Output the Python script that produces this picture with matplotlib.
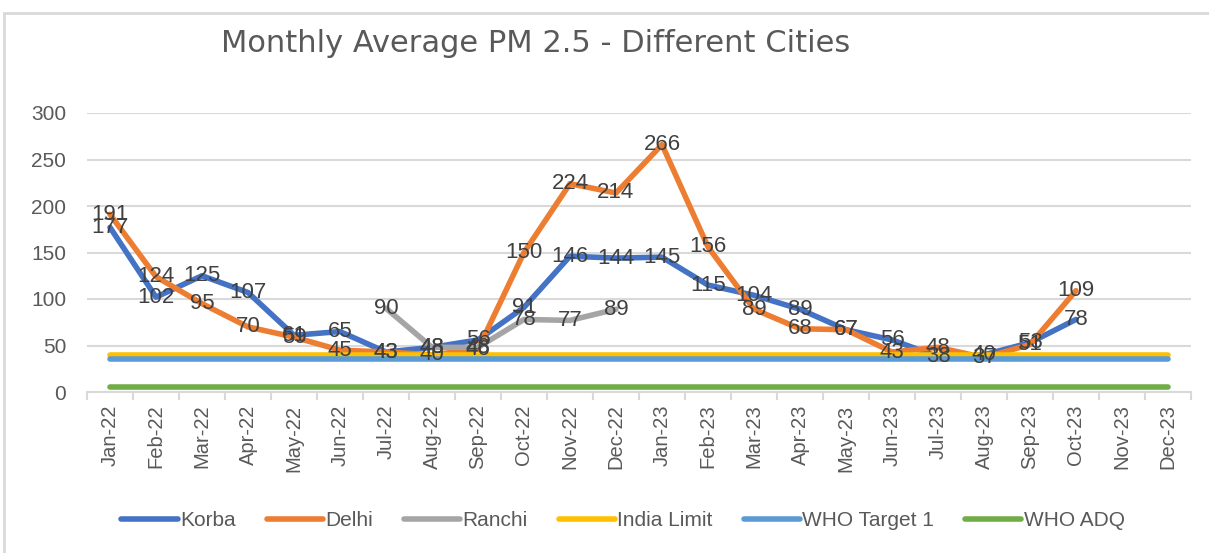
import numpy as np
import matplotlib
matplotlib.use('Agg')
import matplotlib.pyplot as plt
from matplotlib.patches import Rectangle

months = ['Jan-22', 'Feb-22', 'Mar-22', 'Apr-22', 'May-22', 'Jun-22', 'Jul-22', 'Aug-22',
          'Sep-22', 'Oct-22', 'Nov-22', 'Dec-22', 'Jan-23', 'Feb-23', 'Mar-23', 'Apr-23',
          'May-23', 'Jun-23', 'Jul-23', 'Aug-23', 'Sep-23', 'Oct-23', 'Nov-23', 'Dec-23']

korba = [177, 102, 125, 107, 61, 65, 43, 48, 56, 91, 146, 144, 145, 115, 104, 89,
         67, 56, 38, 40, 53, 78, None, None]
delhi = [191, 124, 95, 70, 59, 45, 43, 40, 46, 150, 224, 214, 266, 156, 89, 68,
         67, 43, 48, 37, 51, 109, None, None]
ranchi = [None, None, None, None, None, None, 90, 48, 48, 78, 77, 89, None, None, None, None,
          None, None, None, None, None, None, None, None]
india_limit = [40] * 24
who_target1 = [35] * 24
who_adq = [5] * 24

plt.rcParams['font.family'] = ['Liberation Sans', 'DejaVu Sans']

fig = plt.figure(figsize=(12.09, 5.53), dpi=100)
ax = fig.add_axes([87 / 1209, 1 - 392 / 553, 1104 / 1209, 279 / 553])

# chart border (only top and left edge show, like the screenshot)
fig.patches.append(Rectangle((4 / 1209, -0.05), 1.1, 1 - 13 / 553 + 0.05, transform=fig.transFigure,
                             fill=False, edgecolor='#D9D9D9', linewidth=2))

x = np.arange(len(months))


def to_arr(vals):
    return np.array([np.nan if v is None else v for v in vals], dtype=float)


series = [
    ('Korba', korba, '#4472C4', True),
    ('Delhi', delhi, '#ED7D31', True),
    ('Ranchi', ranchi, '#A5A5A5', True),
    ('India Limit', india_limit, '#FFC000', False),
    ('WHO Target 1', who_target1, '#5B9BD5', False),
    ('WHO ADQ', who_adq, '#70AD47', False),
]

for name, vals, color, labelled in series:
    y = to_arr(vals)
    ax.plot(x, y, color=color, lw=4, solid_capstyle='round', solid_joinstyle='round', label=name)

for name, vals, color, labelled in series:
    if not labelled:
        continue
    for i, v in enumerate(vals):
        if v is None:
            continue
        ax.text(i, v, str(v), ha='center', va='center', fontsize=16, color='#404040', zorder=5)

ax.set_xlim(-0.5, 23.5)
ax.set_ylim(0, 300)
ax.set_yticks(range(0, 301, 50))
ax.set_xticks(x)
ax.set_xticklabels(months, rotation=90)
ax.set_xticks(np.arange(-0.5, 24, 1), minor=True)
ax.tick_params(axis='x', which='major', length=0, pad=9, labelsize=14.5, labelcolor='#595959')
ax.tick_params(axis='x', which='minor', length=6, width=1.5, color='#D9D9D9')
ax.tick_params(axis='y', length=0, pad=15, labelsize=15, labelcolor='#595959')
ax.grid(axis='y', color='#D9D9D9', lw=1.5)
ax.set_axisbelow(True)
for s in ['top', 'right', 'left']:
    ax.spines[s].set_visible(False)
ax.spines['bottom'].set_color('#D9D9D9')
ax.spines['bottom'].set_linewidth(1.5)

fig.text(536 / 1209, 1 - 44 / 553, 'Monthly Average PM 2.5 - Different Cities', ha='center', va='center',
         fontsize=22, color='#595959', family=['Liberation Sans Narrow', 'DejaVu Sans'])

fig.legend(loc='center', bbox_to_anchor=(623 / 1209, 1 - 521 / 553), ncol=6, frameon=False,
           fontsize=15, labelcolor='#595959', handlelength=2.7, handletextpad=0.1, columnspacing=1.5)

fig.savefig('out.png', dpi=100)
